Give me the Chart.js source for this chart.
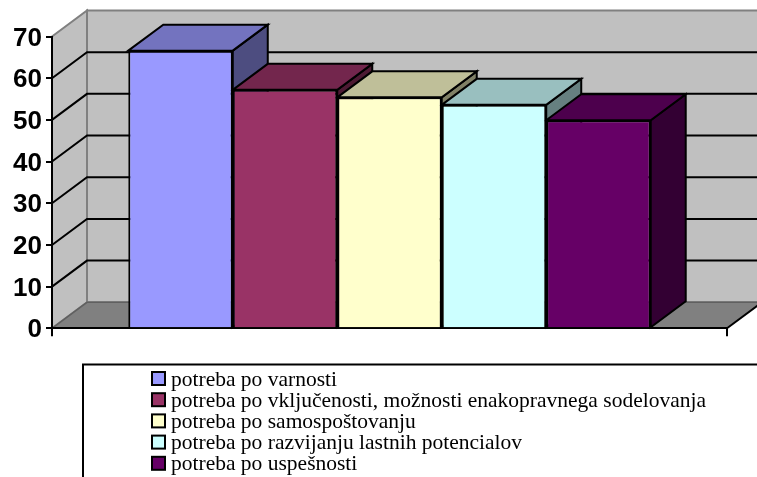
<!DOCTYPE html>
<html><head><meta charset="utf-8">
<style>html,body{margin:0;padding:0;background:#fff;overflow:hidden}canvas{display:block}</style>
<script src="https://cdn.jsdelivr.net/npm/chart.js@4"></script>
</head><body><canvas id="c" width="757" height="477"></canvas>
<script>
const categories = [''];
const seriesNames = [
  'potreba po varnosti',
  'potreba po vključenosti, možnosti enakopravnega sodelovanja',
  'potreba po samospoštovanju',
  'potreba po razvijanju lastnih potencialov',
  'potreba po uspešnosti'
];
const seriesValues = [66.6, 57.2, 55.4, 53.6, 49.9];
const frontColors = ['#9999FF', '#993366', '#FFFFCC', '#CCFFFF', '#660066'];
const topColors = ['#7373BF', '#73264D', '#BFBF99', '#99BFBF', '#4D004D'];
const sideColors = ['#4D4D80', '#4D1A33', '#808066', '#668080', '#330033'];
const yTicks = [0, 10, 20, 30, 40, 50, 60, 70];

const DX = 35, DY = -26;
function poly(ctx, pts, fill, stroke, lw) {
  ctx.beginPath();
  pts.forEach((p, i) => i ? ctx.lineTo(p[0], p[1]) : ctx.moveTo(p[0], p[1]));
  ctx.closePath();
  if (fill) { ctx.fillStyle = fill; ctx.fill(); }
  if (stroke) { ctx.strokeStyle = stroke; ctx.lineWidth = lw; ctx.lineJoin = 'miter'; ctx.stroke(); }
}
const box3d = {
  id: 'box3d',
  beforeDraw(chart) {
    const ctx = chart.ctx, a = chart.chartArea, y = chart.scales.y;
    const L = a.left, R = a.right, T = y.getPixelForValue(70), B = y.getPixelForValue(0);
    ctx.save();
    // back wall, left wall, floor
    poly(ctx, [[L+DX,T+DY],[R+DX,T+DY],[R+DX,B+DY],[L+DX,B+DY]], '#C0C0C0', '#808080', 2);
    poly(ctx, [[L,T],[L+DX,T+DY],[L+DX,B+DY],[L,B]], '#C0C0C0', '#808080', 2);
    poly(ctx, [[L,B],[L+DX,B+DY],[R+DX,B+DY],[R,B]], '#808080', null, 0);
    ctx.strokeStyle = '#606060'; ctx.lineWidth = 1.5;
    ctx.beginPath(); ctx.moveTo(L, B); ctx.lineTo(L+DX, B+DY); ctx.lineTo(R+DX, B+DY); ctx.stroke();
    ctx.strokeStyle = '#000'; ctx.lineWidth = 2;
    ctx.beginPath(); ctx.moveTo(R, B); ctx.lineTo(R+DX, B+DY); ctx.stroke();
    // grid lines over both walls
    yTicks.slice(1, -1).forEach(v => {
      const py = y.getPixelForValue(v);
      ctx.beginPath(); ctx.moveTo(L, py); ctx.lineTo(L+DX, py+DY); ctx.lineTo(R+DX, py+DY); ctx.stroke();
    });
    ctx.restore();
  },
  beforeDatasetsDraw(chart) {
    const ctx = chart.ctx;
    ctx.save();
    chart.data.datasets.forEach((ds, i) => {
      const b = chart.getDatasetMeta(i).data[0];
      const l = b.x - b.width/2, r = b.x + b.width/2, t = b.y, base = b.base;
      poly(ctx, [[r,t],[r+DX,t+DY],[r+DX,base+DY],[r,base]], sideColors[i], '#000', 2);
      poly(ctx, [[l,t],[l+DX,t+DY],[r+DX,t+DY],[r,t]], topColors[i], '#000', 2);
    });
    ctx.restore();
  },
  afterDraw(chart) {
    const ctx = chart.ctx;
    ctx.save();
    ctx.strokeStyle = '#000'; ctx.lineWidth = 2;
    ctx.strokeRect(83, 364.5, 800, 300);
    ctx.font = '21.5px "Liberation Serif"';
    ctx.textBaseline = 'alphabetic'; ctx.textAlign = 'left'; 
    chart.data.datasets.forEach((ds, i) => {
      const top = 372 + i * 21.2;
      ctx.fillStyle = ds.backgroundColor;
      ctx.fillRect(152, top, 13, 13);
      ctx.strokeRect(152, top, 13, 13);
      ctx.fillStyle = '#000';
      ctx.fillText(ds.label, 171, top + 13.5);
    });
    ctx.restore();
  }
};

new Chart(document.getElementById('c'), {
  type: 'bar',
  plugins: [box3d],
  data: {
    labels: categories,
    datasets: seriesNames.map((n, i) => ({
      label: n,
      data: [seriesValues[i]],
      backgroundColor: frontColors[i],
      borderColor: '#000',
      borderWidth: 2,
      categoryPercentage: 0.774,
      barPercentage: 1
    }))
  },
  options: {
    responsive: false,
    animation: false,
    layout: { padding: { top: 36.5, right: 30, left: 0, bottom: 0 } },
    scales: {
      x: {
        afterFit(s) { s.height = 148.7; },
        ticks: { display: false },
        border: { display: true, color: '#000', width: 2 },
        grid: { drawOnChartArea: false, drawTicks: true, tickLength: 8, color: '#000', lineWidth: 2, offset: true }
      },
      y: {
        min: 0, max: 70,
        afterFit(s) { s.width = 52; },
        afterBuildTicks(s) { s.ticks = yTicks.map(v => ({ value: v })); },
        ticks: { color: '#000', padding: 4, labelOffset: 2, font: { family: '"Liberation Sans"', size: 26, weight: 'bold' } },
        border: { display: true, color: '#000', width: 2 },
        grid: { drawOnChartArea: false, drawTicks: true, tickLength: 6, color: '#000', lineWidth: 2 }
      }
    },
    plugins: {
      title: { display: false },
      tooltip: { enabled: false },
      legend: { display: false }
    }
  }
});
</script></body></html>
